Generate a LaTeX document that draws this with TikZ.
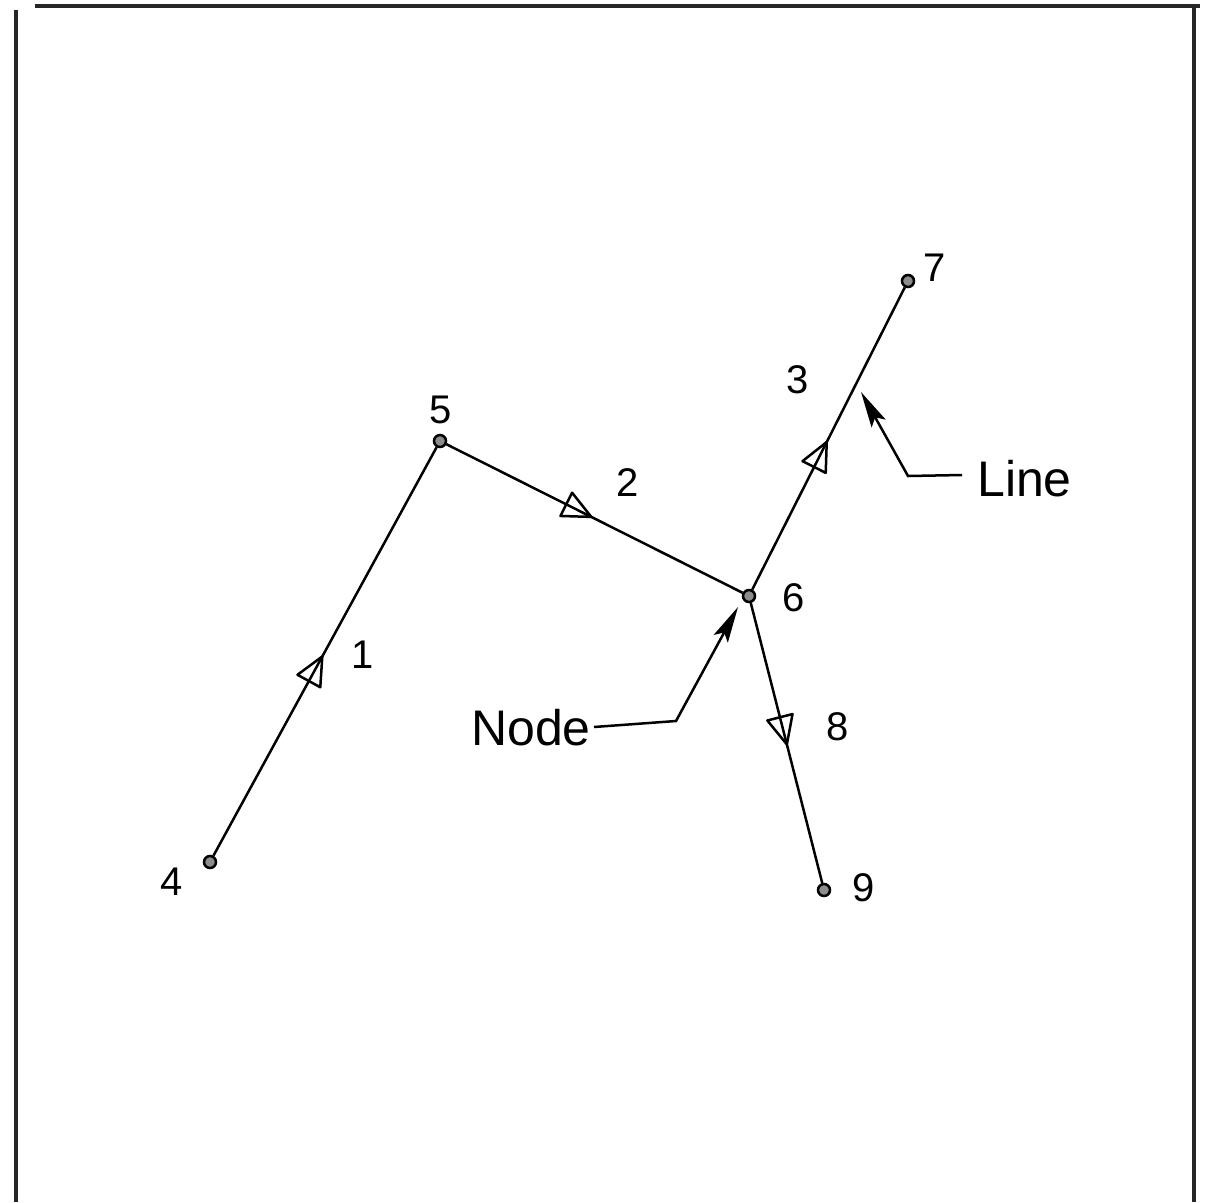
\documentclass[tikz,border=0pt]{standalone}
\usepackage{fontspec}
\setmainfont{Liberation Sans}
\usetikzlibrary{decorations.markings,arrows.meta}
\tikzset{
  pt/.style={circle,draw=black,fill=black!45,line width=2.5pt,inner sep=0pt,minimum size=12pt},
  num/.style={font=\fontsize{40}{40}\selectfont,inner sep=0pt},
  word/.style={font=\fontsize{50}{50}\selectfont,inner sep=0pt},
  edge/.style={line width=2.5pt,postaction={decorate},decoration={markings,
    mark=at position #1 with {\draw[line width=2.5pt,line join=round] (13,0) -- (-15,13) -- (-15,-13) -- cycle;}}},
  frame/.style={line width=4pt,black!85},
  pointer/.style={line width=2.5pt,-{Stealth[length=36pt,width=16pt,inset=7pt]}}
}
\begin{document}
\begin{tikzpicture}[x=1pt,y=-1pt]
\useasboundingbox (0,0) rectangle (1206,1202);
\fill[white] (0,0) rectangle (1206,1202);
% frame
\draw[frame] (16,10) -- (16,1202);
\draw[frame] (35,6) -- (1200,6);
\draw[frame] (1194,6) -- (1194,1202);
% nodes
\node[pt] (n4) at (210,862) {};
\node[pt] (n5) at (440,441) {};
\node[pt] (n6) at (749,596) {};
\node[pt] (n7) at (908,281) {};
\node[pt] (n9) at (824,890) {};
% node labels
\node[num] (l4) at (172,882) {4};
\node[num] (l5) at (441,410) {5};
\node[num] (l6) at (794,598) {6};
\node[num] (l7) at (935,268) {7};
\node[num] (l9) at (864,888) {9};
% edges
\draw[edge=0.46] (n4) -- (n5);
\draw[edge=0.45] (n5) -- (n6);
\draw[edge=0.45] (n6) -- (n7);
\draw[edge=0.46] (n6) -- (n9);
% edge labels
\node[num] (e1) at (363,655) {1};
\node[num] (e2) at (628,483) {2};
\node[num] (e3) at (798,380) {3};
\node[num] (e8) at (838,727) {8};
% callouts
\node[word,anchor=west] (tline) at (977,479) {Line};
\node[word,anchor=east] (tnode) at (591,728) {Node};
\coordinate (c1a) at (962,475);
\coordinate (c1b) at (908,476);
\coordinate (c1t) at (861,392);
\coordinate (c2a) at (594,727);
\coordinate (c2b) at (676,721);
\coordinate (c2t) at (738,607);
\draw[pointer] (c1a) -- (c1b) -- (c1t);
\draw[pointer] (c2a) -- (c2b) -- (c2t);
\end{tikzpicture}
\end{document}
